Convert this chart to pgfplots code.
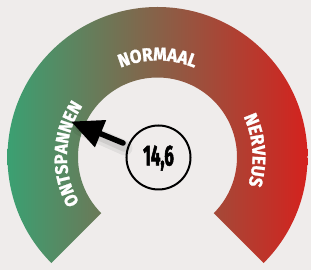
\documentclass[border=0pt]{standalone}
\usepackage{fontspec}
\setmainfont{Fira Sans}
\newfontfamily\labfont{Fira Sans}[FakeStretch=0.92, BoldFeatures={FakeBold=1.4}]
\newfontfamily\numfont{Fira Sans}[FakeStretch=0.58, BoldFeatures={FakeBold=1.8}]
\usepackage{pgfplots}
\pgfplotsset{compat=1.18}
\usetikzlibrary{decorations.text,arrows.meta}
\definecolor{bg}{HTML}{EFECEB}
\definecolor{gA}{HTML}{3BA072}
\definecolor{gB}{HTML}{9A7F47}
\definecolor{gC}{HTML}{D4221E}
\begin{document}
\begin{tikzpicture}
\begin{axis}[scale only axis, width=311pt, height=270pt,
  xmin=0, xmax=311, ymin=0, ymax=270, hide axis, clip=false]
\fill[bg] (axis cs:0,0) rectangle (axis cs:311,270);
\coordinate (C) at (axis cs:157.5,113);
\begin{scope}
\clip ([shift={(225:150pt)}]C) arc[start angle=225, end angle=-45, radius=150pt]
  -- ([shift={(-45:79.5pt)}]C) arc[start angle=-45, end angle=225, radius=79.5pt] -- cycle;
\shade[left color=gA, middle color=gB, right color=gC] (axis cs:7.5,0) rectangle (axis cs:307.5,270);
\end{scope}
% labels
\path[decorate, decoration={text along path, text align=center, text color=white,
  text={|\labfont\bfseries\fontsize{18.5}{18.5}\selectfont|NORMAAL}}]
  ([shift={(150:96.5pt)}]C) arc[start angle=150, end angle=30, radius=96.5pt];
\path[decorate, decoration={text along path, text align=center, text color=white,
  text={|\labfont\bfseries\fontsize{18}{18}\selectfont|ONTSPANNEN}}]
  ([shift={(220:90.5pt)}]C) arc[start angle=220, end angle=136, radius=90.5pt];
\path[decorate, decoration={text along path, text align=center, text color=white,
  text={|\labfont\bfseries\fontsize{18.5}{18.5}\selectfont|NERVEUS}}]
  ([shift={(46:95pt)}]C) arc[start angle=46, end angle=-38, radius=95pt];
% needle shadow
\addplot[black, opacity=0.06, line width=15pt, line cap=round] coordinates {(125,122) (80,142)};
\addplot[black, opacity=0.08, line width=10pt, line cap=round] coordinates {(125,123) (80,143)};
% needle (value 14,6)
\addplot[black, line width=5.5pt, line cap=round, -{Triangle[length=32pt,width=28pt]}]
  coordinates {(123,127) (71,148.5)};
% value circle
\draw[black, line width=2pt] (axis cs:158.5,112.5) circle[radius=32pt];
\node[font=\numfont\bfseries\fontsize{29}{29}\selectfont, text=black] at (axis cs:158.5,112) {14,6};
\end{axis}
\pgfresetboundingbox
\path (current axis.south west) rectangle (current axis.north east);
\end{tikzpicture}
\end{document}
